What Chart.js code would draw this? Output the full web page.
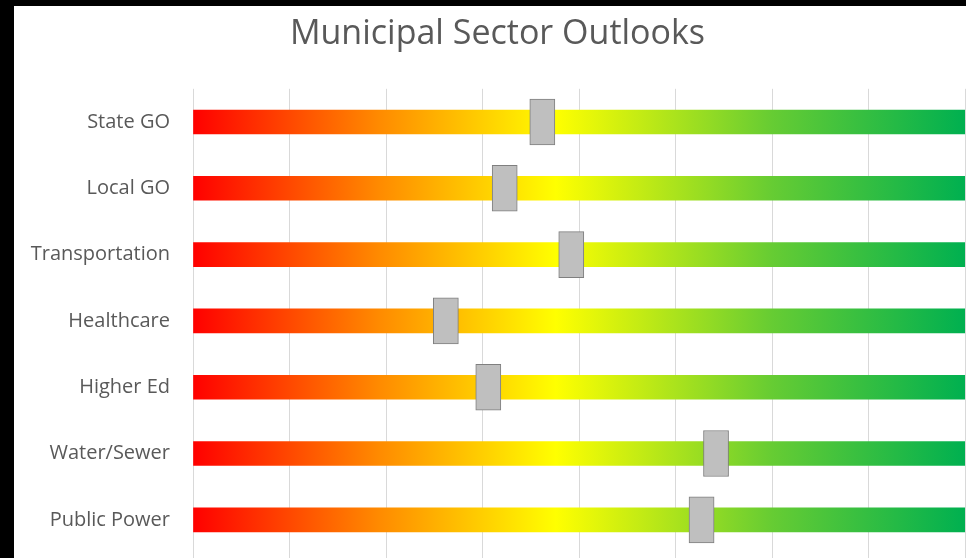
<!DOCTYPE html>
<html>
<head>
<meta charset="utf-8">
<title>Municipal Sector Outlooks</title>
<script src="https://cdn.jsdelivr.net/npm/chart.js@4.4.1/dist/chart.umd.min.js"></script>
<style>
    html, body { margin: 0; padding: 0; background: #000; }
    #outlookChart {
        position: absolute;
        left: 14px;
        top: 6px;
        background: #fff;
    }
</style>
</head>
<body>
<canvas id="outlookChart" width="952" height="552"></canvas>
<script>
// Sectors and where each one sits on the red-to-green outlook scale (0 = worst, 8 = best)
const sectors = ['State GO', 'Local GO', 'Transportation', 'Healthcare', 'Higher Ed', 'Water/Sewer', 'Public Power'];
const outlook = [3.62, 3.23, 3.92, 2.62, 3.06, 5.42, 5.27];
const scaleMax = 8;
const scaleTicks = [0, 1, 2, 3, 4, 5, 6, 7, 8];

// half the width of a slider marker, in scale units
const markerHalf = 0.13;

function trackGradient(ctx) {
    const chart = ctx.chart;
    const area = chart.chartArea;
    if (!area) return '#ffff00';
    const g = chart.ctx.createLinearGradient(area.left, 0, area.right, 0);
    g.addColorStop(0, '#ff0000');
    g.addColorStop(0.24, '#ff8a00');
    g.addColorStop(0.47, '#ffff00');
    g.addColorStop(0.75, '#66cc33');
    g.addColorStop(1, '#00b050');
    return g;
}

const outlookCtx = document.getElementById('outlookChart').getContext('2d');
new Chart(outlookCtx, {
    type: 'bar',
    data: {
        labels: sectors,
        datasets: [
            {
                // slider markers
                label: 'Outlook',
                data: outlook.map(v => [v - markerHalf, v + markerHalf]),
                backgroundColor: '#bfbfbf',
                borderColor: '#7f7f7f',
                borderWidth: 1,
                borderSkipped: false,
                barThickness: 46,
                grouped: false,
                order: 0
            },
            {
                // full-length gradient tracks
                label: 'Scale',
                data: sectors.map(() => scaleMax),
                backgroundColor: trackGradient,
                borderWidth: 0,
                barThickness: 24,
                grouped: false,
                order: 1
            }
        ]
    },
    options: {
        indexAxis: 'y',
        responsive: false,
        animation: false,
        layout: {
            padding: { top: 0, right: 1, bottom: 0, left: 16 }
        },
        plugins: {
            legend: { display: false },
            tooltip: { enabled: false },
            title: {
                display: true,
                text: 'Municipal Sector Outlooks',
                color: '#595959',
                font: { family: 'Open Sans', size: 34, weight: 'normal' },
                padding: { top: 8, bottom: 34 }
            }
        },
        scales: {
            x: {
                min: 0,
                max: scaleMax,
                afterBuildTicks: (scale) => {
                    scale.ticks = scaleTicks.map(v => ({ value: v }));
                },
                afterFit: (scale) => { scale.height = 5; },
                ticks: { display: false },
                grid: {
                    color: '#d9d9d9',
                    drawTicks: true,
                    tickLength: 5
                },
                border: { display: false }
            },
            y: {
                grid: { display: false, drawTicks: false },
                border: { display: false },
                afterFit: (scale) => {
                    // the label gap should only push labels sideways, not shrink the plot vertically
                    scale.width = 163;
                    scale.paddingTop = 0;
                    scale.paddingBottom = 0;
                },
                ticks: {
                    color: '#595959',
                    padding: 23,
                    font: { family: 'Open Sans', size: 20 }
                }
            }
        }
    }
});
</script>
</body>
</html>
